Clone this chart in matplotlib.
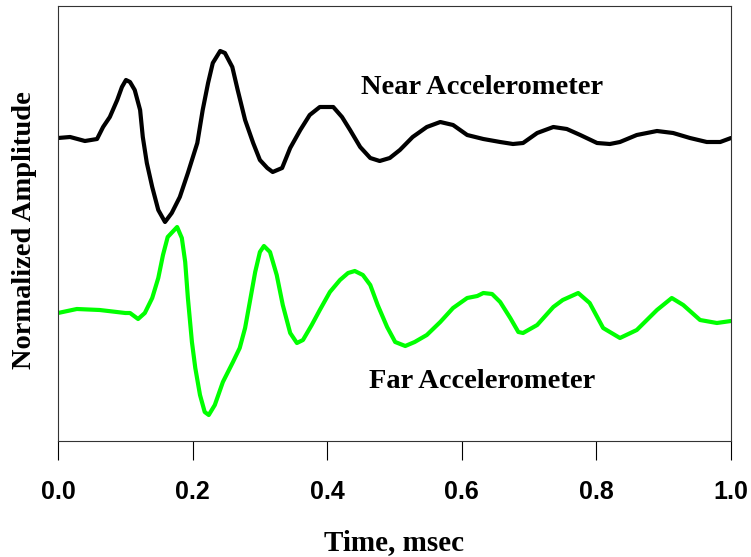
import matplotlib
matplotlib.use("Agg")
import matplotlib.pyplot as plt

# time axis, msec
near_t = [0.000, 0.018, 0.040, 0.058, 0.067, 0.077, 0.088, 0.095, 0.101, 0.107,
          0.114, 0.122, 0.126, 0.132, 0.140, 0.149, 0.159, 0.169, 0.181, 0.193,
          0.207, 0.215, 0.223, 0.230, 0.241, 0.248, 0.259, 0.267, 0.278, 0.290,
          0.300, 0.311, 0.319, 0.333, 0.345, 0.360, 0.374, 0.389, 0.409, 0.422,
          0.434, 0.449, 0.464, 0.478, 0.493, 0.508, 0.527, 0.548, 0.568, 0.587,
          0.608, 0.632, 0.657, 0.676, 0.691, 0.712, 0.736, 0.756, 0.776, 0.801,
          0.820, 0.835, 0.860, 0.890, 0.914, 0.939, 0.964, 0.984, 1.000]
near_amp = [0.01, 0.02, -0.02, 0.00, 0.12, 0.22, 0.39, 0.52, 0.59, 0.57,
            0.49, 0.29, 0.02, -0.24, -0.48, -0.71, -0.83, -0.74, -0.58, -0.34,
            -0.04, 0.29, 0.56, 0.76, 0.88, 0.86, 0.72, 0.49, 0.19, -0.04,
            -0.21, -0.29, -0.33, -0.29, -0.09, 0.09, 0.24, 0.32, 0.32, 0.22,
            0.09, -0.08, -0.19, -0.22, -0.19, -0.11, 0.02, 0.12, 0.17, 0.14,
            0.04, 0.00, -0.03, -0.05, -0.04, 0.06, 0.12, 0.10, 0.04, -0.04,
            -0.05, -0.03, 0.04, 0.08, 0.06, 0.01, -0.03, -0.03, 0.01]

far_t = [0.000, 0.028, 0.062, 0.100, 0.107, 0.119, 0.129, 0.140, 0.149, 0.156,
         0.163, 0.177, 0.184, 0.189, 0.193, 0.199, 0.204, 0.211, 0.218, 0.224,
         0.233, 0.245, 0.260, 0.270, 0.278, 0.285, 0.293, 0.300, 0.306, 0.315,
         0.325, 0.334, 0.345, 0.355, 0.364, 0.377, 0.389, 0.404, 0.419, 0.431,
         0.441, 0.453, 0.464, 0.475, 0.489, 0.501, 0.516, 0.530, 0.548, 0.568,
         0.587, 0.608, 0.623, 0.632, 0.645, 0.657, 0.672, 0.684, 0.691, 0.712,
         0.736, 0.750, 0.773, 0.790, 0.810, 0.835, 0.860, 0.890, 0.912, 0.929,
         0.954, 0.979, 1.000]
far_amp = [-0.01, 0.03, 0.02, -0.01, -0.01, -0.07, -0.01, 0.14, 0.34, 0.57,
           0.75, 0.85, 0.74, 0.50, 0.14, -0.30, -0.56, -0.83, -1.00, -1.03,
           -0.93, -0.70, -0.50, -0.36, -0.16, 0.10, 0.40, 0.60, 0.66, 0.60,
           0.37, 0.07, -0.21, -0.31, -0.28, -0.13, 0.02, 0.20, 0.32, 0.39,
           0.41, 0.37, 0.27, 0.07, -0.15, -0.30, -0.34, -0.30, -0.23, -0.10,
           0.04, 0.14, 0.16, 0.19, 0.18, 0.10, -0.06, -0.20, -0.21, -0.13,
           0.05, 0.12, 0.19, 0.09, -0.16, -0.26, -0.18, 0.02, 0.14, 0.07,
           -0.08, -0.11, -0.09]

near_offset = 3.02
far_offset = 1.29
xticks = [0.0, 0.2, 0.4, 0.6, 0.8, 1.0]

fig = plt.figure(figsize=(7.51, 5.57), dpi=100)
ax = fig.add_axes([58 / 751, 116 / 557, 673 / 751, 435 / 557])

ax.plot(near_t, [a + near_offset for a in near_amp], color="black", lw=3,
        solid_joinstyle="round", solid_capstyle="round")
ax.plot(far_t, [a + far_offset for a in far_amp], color="#00ff00", lw=3,
        solid_joinstyle="round", solid_capstyle="round")

serif = ["Liberation Serif", "DejaVu Serif"]
sans = ["Liberation Sans", "DejaVu Sans"]

ax.text(0.63, 3.53, "Near Accelerometer", family=serif, weight="bold",
        fontsize=20.5, ha="center", va="center")
ax.text(0.63, 0.60, "Far Accelerometer", family=serif, weight="bold",
        fontsize=20.5, ha="center", va="center")

ax.set_xlim(0, 1)
ax.set_ylim(0, 4.35)
ax.set_xticks(xticks)
ax.set_xticklabels([f"{v:.1f}" for v in xticks], family=sans,
                   weight="bold", fontsize=18)
ax.tick_params(axis="x", direction="out", length=14, width=0.8, pad=14)
ax.set_yticks([])
for s in ax.spines.values():
    s.set_linewidth(0.8)
    s.set_color("#333333")

ax.set_xlabel("Time, msec", family=serif, weight="bold", fontsize=21,
              labelpad=18)
ax.set_ylabel("Normalized Amplitude", family=serif, weight="bold",
              fontsize=20.5)
ax.yaxis.set_label_coords(-0.031, 0.484)

fig.savefig("out.png", dpi=100)
